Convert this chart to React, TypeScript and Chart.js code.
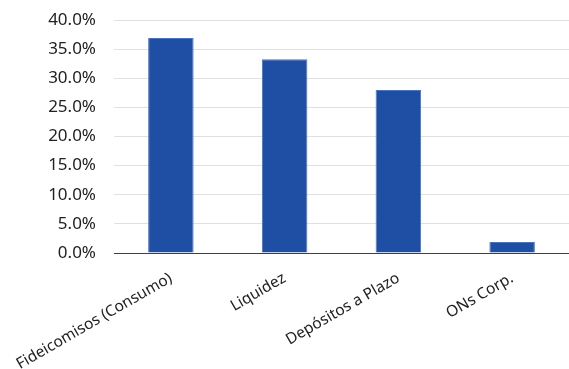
import React, { useEffect, useRef } from "react";
import { Chart, registerables } from "chart.js";

Chart.register(...registerables);

const categories = ["Fideicomisos (Consumo)", "Liquidez", "Depósitos a Plazo", "ONs Corp."];
const values = [36.9, 33.25, 28.0, 1.9];
const yTicks = [0, 5, 10, 15, 20, 25, 30, 35, 40];

export default function App() {
  const ref = useRef<HTMLCanvasElement>(null);
  useEffect(() => {
    document.body.style.margin = "0";
    document.body.style.overflow = "hidden";
    const chart = new Chart(ref.current!, {
      type: "bar",
      data: {
        labels: categories,
        datasets: [
          {
            data: values,
            backgroundColor: "#1f4ea5",
            borderColor: "#4a74c0",
            borderWidth: { top: 1, left: 1, right: 1, bottom: 0 },
            categoryPercentage: 1,
            barPercentage: 0.4,
          },
        ],
      },
      options: {
        animation: false,
        responsive: false,
        maintainAspectRatio: false,
        layout: { padding: { left: 0, right: 0, top: 20, bottom: 0 } },
        plugins: { legend: { display: false }, tooltip: { enabled: false } },
        scales: {
          x: {
            grid: { display: false },
            border: { display: true, color: "#404040", width: 1 },
            ticks: {
              color: "#222",
              font: { family: "Noto Sans", size: 15.5 },
              minRotation: 30,
              maxRotation: 30,
              autoSkip: false,
              padding: 8,
            },
            afterFit: (axis: any) => {
              axis.height = 116;
              axis.paddingLeft = 0;
              axis.paddingRight = 0;
            },
          },
          y: {
            min: 0,
            max: 40,
            afterBuildTicks: (axis: any) => {
              axis.ticks = yTicks.map((v) => ({ value: v }));
            },
            grid: { color: "#e0e0e0", drawTicks: false, lineWidth: 1 },
            border: { display: false },
            ticks: {
              color: "#222",
              font: { family: "Noto Sans", size: 17 },
              padding: 18,
              callback: (v: any) => Number(v).toFixed(1) + "%",
            },
            afterFit: (axis: any) => {
              axis.width = 114;
              axis.paddingTop = 0;
              axis.paddingBottom = 0;
            },
          },
        },
      },
    });
    return () => chart.destroy();
  }, []);
  return (
    <div style={{ position: "absolute", left: 0, top: 0, width: 569, height: 369 }}>
      <canvas ref={ref} width={569} height={369} style={{ width: 569, height: 369 }} />
    </div>
  );
}
